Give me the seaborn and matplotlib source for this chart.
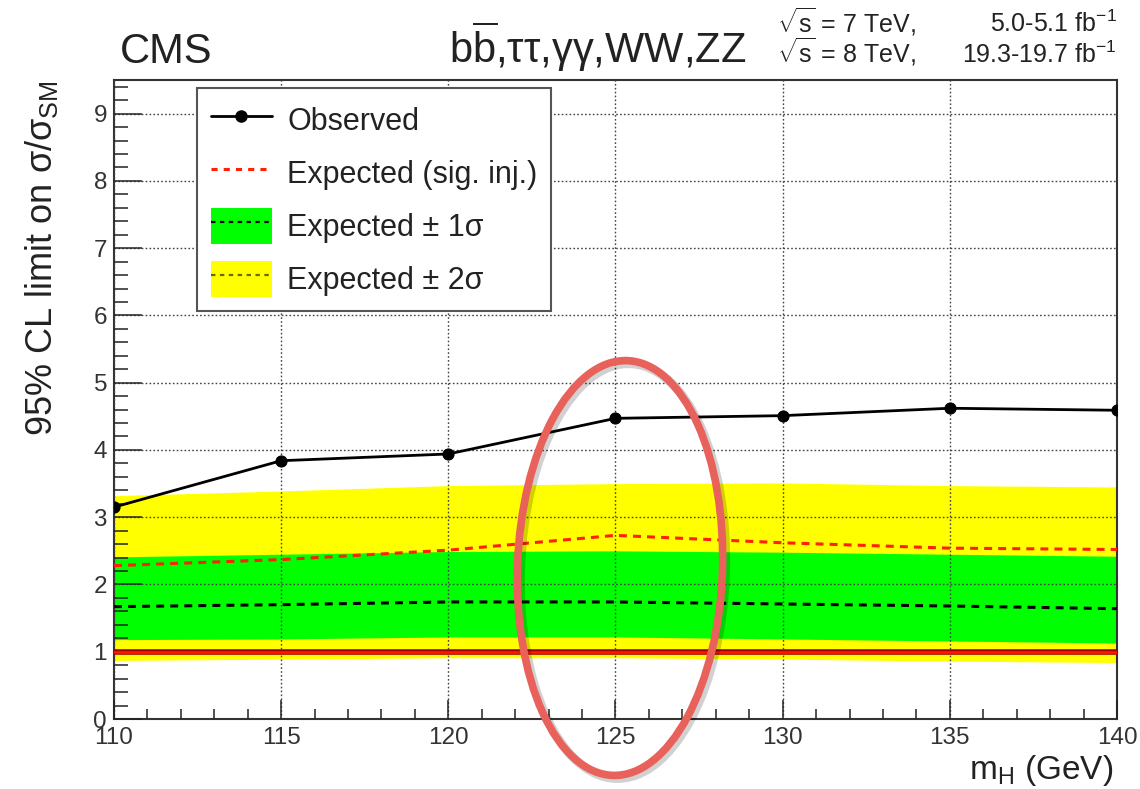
import numpy as np
import pandas as pd
import seaborn as sns
import matplotlib.pyplot as plt
from matplotlib.patches import Patch, Ellipse
from matplotlib.lines import Line2D
from matplotlib.ticker import MultipleLocator

# Higgs mass points (GeV) and 95% CL limits on sigma/sigma_SM
mass = [110, 115, 120, 125, 130, 135, 140]
observed = [3.15, 3.84, 3.94, 4.47, 4.51, 4.62, 4.59]
expected = [1.67, 1.70, 1.74, 1.74, 1.71, 1.68, 1.64]
expected_siginj = [2.28, 2.37, 2.51, 2.73, 2.62, 2.54, 2.52]
band1_lo = [1.18, 1.19, 1.22, 1.22, 1.19, 1.16, 1.13]
band1_hi = [2.41, 2.45, 2.49, 2.50, 2.48, 2.45, 2.42]
band2_lo = [0.87, 0.89, 0.91, 0.91, 0.89, 0.86, 0.84]
band2_hi = [3.32, 3.39, 3.47, 3.50, 3.51, 3.47, 3.45]
sm_value = 1.0

legend_labels = ["Observed", "Expected (sig. inj.)",
                 "Expected \u00b1 1\u03c3", "Expected \u00b1 2\u03c3"]

df = pd.DataFrame({"mass": mass, "observed": observed, "expected": expected,
                   "siginj": expected_siginj})

sns.set_theme(style="ticks")
plt.rcParams["font.family"] = ["Liberation Sans", "DejaVu Sans"]
plt.rcParams["mathtext.fontset"] = "custom"
plt.rcParams["mathtext.rm"] = "Liberation Sans"
plt.rcParams["mathtext.it"] = "Liberation Sans:italic"
plt.rcParams["mathtext.bf"] = "Liberation Sans:bold"

fig = plt.figure(figsize=(11.4, 7.89), dpi=100)
ax = fig.add_axes([114 / 1140, 1 - 719 / 789, 1003 / 1140, 639 / 789])

yellow = "#ffff00"
green = "#00ff00"

ax.fill_between(mass, band2_lo, band2_hi, color=yellow, lw=0, zorder=1)
ax.fill_between(mass, band1_lo, band1_hi, color=green, lw=0, zorder=1.1)

# SM reference line
ax.axhline(sm_value, color="#a00000", lw=4.0, zorder=3)
ax.axhline(sm_value, color="#ff1a00", lw=1.8, zorder=3.1)

sns.lineplot(data=df, x="mass", y="expected", ax=ax, color="black", lw=2.2,
             linestyle=(0, (2.6, 2.0)), zorder=3.5)
sns.lineplot(data=df, x="mass", y="siginj", ax=ax, color="#ff2000", lw=2.2,
             linestyle=(0, (2.6, 2.0)), zorder=3.6)
sns.lineplot(data=df, x="mass", y="observed", ax=ax, color="black", lw=2.0,
             marker="o", markersize=8, markeredgecolor="black", zorder=5)

ax.set_xlim(110, 140)
ax.set_ylim(0, 9.5)
ax.xaxis.set_major_locator(MultipleLocator(5))
ax.xaxis.set_minor_locator(MultipleLocator(1))
ax.yaxis.set_major_locator(MultipleLocator(1))
ax.yaxis.set_minor_locator(MultipleLocator(0.2))

ax.set_axisbelow(False)
ax.grid(True, which="major", color="#444444", lw=1.0, ls=(0, (1.2, 1.6)))

ax.tick_params(axis="x", which="major", direction="in", length=14, width=1.1,
               labelsize=17.5, pad=6, color="#222222")
ax.tick_params(axis="x", which="minor", direction="in", length=7, width=1.1,
               color="#222222")
ax.tick_params(axis="y", which="major", direction="in", length=20, width=1.1,
               labelsize=17.5, pad=5, color="#222222")
ax.tick_params(axis="y", which="minor", direction="in", length=10, width=1.1,
               color="#222222")
for sp in ax.spines.values():
    sp.set_color("#333333")
    sp.set_linewidth(1.5)
    sp.set_visible(True)
ax.tick_params(labelcolor="#333333")

ax.set_xlabel(r"m$_{\mathrm{H}}$ (GeV)", fontsize=24, color="#222222", loc="right")
ax.xaxis.set_label_coords(0.996, -0.053)
ax.set_ylabel("95% CL limit on \u03c3/\u03c3$_{\mathrm{SM}}$", fontsize=26,
              color="#222222", loc="top")
ax.yaxis.set_label_coords(-0.054, 1.0)

handles = [
    Line2D([], [], color="black", lw=2.0, marker="o", markersize=8),
    Line2D([], [], color="#ff2000", lw=2.2, ls=(0, (2.0, 2.0))),
    (Patch(facecolor=green, edgecolor="none"),
     Line2D([], [], color="black", lw=1.6, ls=(0, (2.0, 2.0)))),
    (Patch(facecolor=yellow, edgecolor="none"),
     Line2D([], [], color="#6a6a00", lw=1.6, ls=(0, (2.0, 2.0)))),
]
leg = ax.legend(handles, legend_labels, loc="upper left",
                bbox_to_anchor=((197 - 114) / 1003, (719 - 88) / 639),
                borderaxespad=0, fontsize=22, handlelength=2.0,
                handleheight=1.45, labelspacing=0.55, handletextpad=0.5,
                borderpad=0.45, frameon=True, fancybox=False,
                edgecolor="#555555", framealpha=1.0, facecolor="white")
leg.get_frame().set_linewidth(1.5)
leg.set_zorder(10)
for t in leg.get_texts():
    t.set_color("#222222")

# Header texts
fig.text(120 / 1140, 1 - 63 / 789, "CMS", fontsize=30, color="#222222",
         ha="left", va="baseline")
fig.text(449 / 1140, 1 - 63 / 789,
         "b$\\overline{\\mathrm{b}}$,\u03c4\u03c4,\u03b3\u03b3,WW,ZZ",
         fontsize=30, color="#222222", ha="left", va="baseline")
fig.text(777 / 1140, 1 - 32 / 789, r"$\sqrt{\mathrm{s}}$ = 7 TeV,", fontsize=18,
         color="#222222", ha="left", va="baseline")
fig.text(1117 / 1140, 1 - 32 / 789, r"5.0-5.1 fb$^{-1}$", fontsize=18,
         color="#222222", ha="right", va="baseline")
fig.text(777 / 1140, 1 - 63 / 789, r"$\sqrt{\mathrm{s}}$ = 8 TeV,", fontsize=18,
         color="#222222", ha="left", va="baseline")
fig.text(1117 / 1140, 1 - 63 / 789, r"19.3-19.7 fb$^{-1}$", fontsize=18,
         color="#222222", ha="right", va="baseline")

# Hand-drawn highlight around m_H = 125 GeV
shadow = Ellipse((6.23, (789 - 571) / 100), 2.05, 4.15, angle=-2,
                 transform=fig.dpi_scale_trans, fill=False,
                 edgecolor="#000000", alpha=0.18, lw=6.5, zorder=19)
fig.add_artist(shadow)
ring = Ellipse((6.20, (789 - 568) / 100), 2.05, 4.15, angle=-2,
               transform=fig.dpi_scale_trans, fill=False,
               edgecolor="#e8615a", lw=5.5, zorder=20)
fig.add_artist(ring)

fig.savefig("out.png", dpi=100)
